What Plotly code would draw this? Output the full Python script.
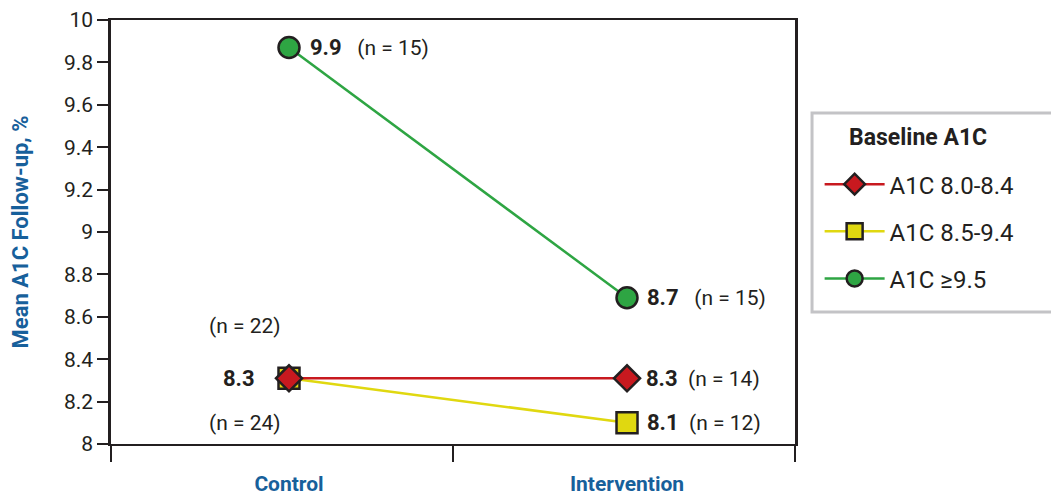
import plotly.graph_objects as go

# ---- data ----
categories = ["Control", "Intervention"]
series_names = ["A1C 8.0-8.4", "A1C 8.5-9.4", "A1C ≥9.5"]
legend_title = "Baseline A1C"
red_vals = [8.31, 8.31]
yellow_vals = [8.31, 8.10]
green_vals = [9.87, 8.69]
red_n = [22, 14]
yellow_n = [24, 12]
green_n = [15, 15]
y_ticks = [8, 8.2, 8.4, 8.6, 8.8, 9, 9.2, 9.4, 9.6, 9.8, 10]
y_ticktext = ["8", "8.2", "8.4", "8.6", "8.8", "9", "9.2", "9.4", "9.6", "9.8", "10"]

RED = "#c8191f"
YEL = "#e0d810"
GRN = "#2ea543"
INK = "#231f20"
BLUE = "#17609b"
FONT = "Roboto"

xpos = [0, 1]
xrange = [-0.5266, 1.497]

fig = go.Figure()

def add(name, vals, color, symbol, size, rank):
    fig.add_trace(go.Scatter(
        x=xpos, y=vals, name=name, mode="lines+markers",
        line=dict(color=color, width=2.5),
        marker=dict(symbol=symbol, size=size, color=color,
                    line=dict(color=INK, width=2.5)),
        legendrank=rank, legendgroup=name,
        xaxis="x", yaxis="y"))

add(series_names[2], green_vals, GRN, "circle", 21, 3)
add(series_names[1], yellow_vals, YEL, "square", 21, 2)
add(series_names[0], red_vals, RED, "diamond", 20, 1)

# axis carrying boundary ticks
fig.add_trace(go.Scatter(x=xrange, y=[None, None], xaxis="x2", yaxis="y",
                         showlegend=False, hoverinfo="skip", mode="markers"))

SP2 = "&nbsp;&nbsp;&nbsp;"
SP1 = "&nbsp;&nbsp;"

def lab(val, n, gap, big=22, small=21):
    return (f"<b><span style='font-size:{big}px'>{val:.1f}</span></b>"
            f"{gap}<span style='font-size:{small}px'>(n = {n})</span>")

ann = []
ann.append(dict(x=0, y=green_vals[0], text=lab(green_vals[0], green_n[0], SP2), xanchor="left", xshift=19))
ann.append(dict(x=1, y=green_vals[1], text=lab(green_vals[1], green_n[1], SP2), xanchor="left", xshift=18))
ann.append(dict(x=1, y=red_vals[1], text=lab(red_vals[1], red_n[1], SP1), xanchor="left", xshift=17))
ann.append(dict(x=1, y=yellow_vals[1], text=lab(yellow_vals[1], yellow_n[1], SP1), xanchor="left", xshift=18))
ann.append(dict(x=0, y=red_vals[0], text=f"<b>{red_vals[0]:.1f}</b>", xanchor="right", xshift=-32,
                font=dict(size=22, family=FONT, color=INK)))
ann.append(dict(x=0, y=red_vals[0], text=f"(n = {red_n[0]})", xanchor="center", xshift=-44, yshift=52,
                font=dict(size=21, family=FONT, color=INK)))
ann.append(dict(x=0, y=yellow_vals[0], text=f"(n = {yellow_n[0]})", xanchor="center", xshift=-44, yshift=-45,
                font=dict(size=21, family=FONT, color=INK)))
for a in ann:
    a.setdefault("font", dict(size=21, family=FONT, color=INK))
    a.update(xref="x", yref="y", showarrow=False, yanchor="middle")

# legend title as paper annotation
ann.append(dict(x=1.076, y=0.724, xref="paper", yref="paper", xanchor="left", yanchor="middle",
                text=f"<b>{legend_title}</b>", showarrow=False,
                font=dict(size=23, family=FONT, color=INK)))

fig.update_layout(
    width=1051, height=496,
    margin=dict(l=111, r=256, t=20, b=52, autoexpand=False),
    paper_bgcolor="white", plot_bgcolor="white",
    font=dict(family=FONT, color=INK, size=20),
    showlegend=True,
    legend=dict(
        x=1.036, xanchor="left", y=0.665, yanchor="top",
        borderwidth=0, bgcolor="rgba(0,0,0,0)",
        font=dict(size=24, family=FONT, color=INK),
        tracegroupgap=13, itemwidth=60,
    ),
    shapes=[dict(type="rect", xref="paper", yref="paper",
                 x0=1.0249, x1=1.40, y0=0.3113, y1=0.7807,
                 line=dict(color="#c3c3c6", width=3), fillcolor="rgba(0,0,0,0)", layer="below")],
    xaxis=dict(
        range=xrange, tickvals=xpos, ticktext=categories, ticks="",
        tickfont=dict(size=21, family=FONT, color=BLUE, weight="bold"),
        ticklabelstandoff=20,
        showline=True, linecolor=INK, linewidth=2, mirror=True,
        showgrid=False, zeroline=False, fixedrange=True,
    ),
    xaxis2=dict(
        range=xrange, overlaying="x", side="bottom",
        tickvals=[xrange[0], 0.485, xrange[1]], ticktext=["", "", ""],
        ticks="outside", ticklen=17, tickwidth=2, tickcolor=INK,
        showline=False, showgrid=False, zeroline=False, showticklabels=False,
    ),
    yaxis=dict(
        range=[8, 10], tickvals=y_ticks, ticktext=y_ticktext,
        ticks="outside", ticklen=11, tickwidth=2, tickcolor=INK,
        tickfont=dict(size=21, family=FONT, color=INK),
        showline=True, linecolor=INK, linewidth=2.5, mirror=True,
        showgrid=False, zeroline=False,
        title=dict(text="<b>Mean A1C Follow-up, %</b>", standoff=30,
                   font=dict(size=22, family=FONT, color=BLUE)),
    ),
    annotations=ann,
)

fig.write_html("out.html", config={"displayModeBar": False},
               post_script="document.body.style.margin='0';")
